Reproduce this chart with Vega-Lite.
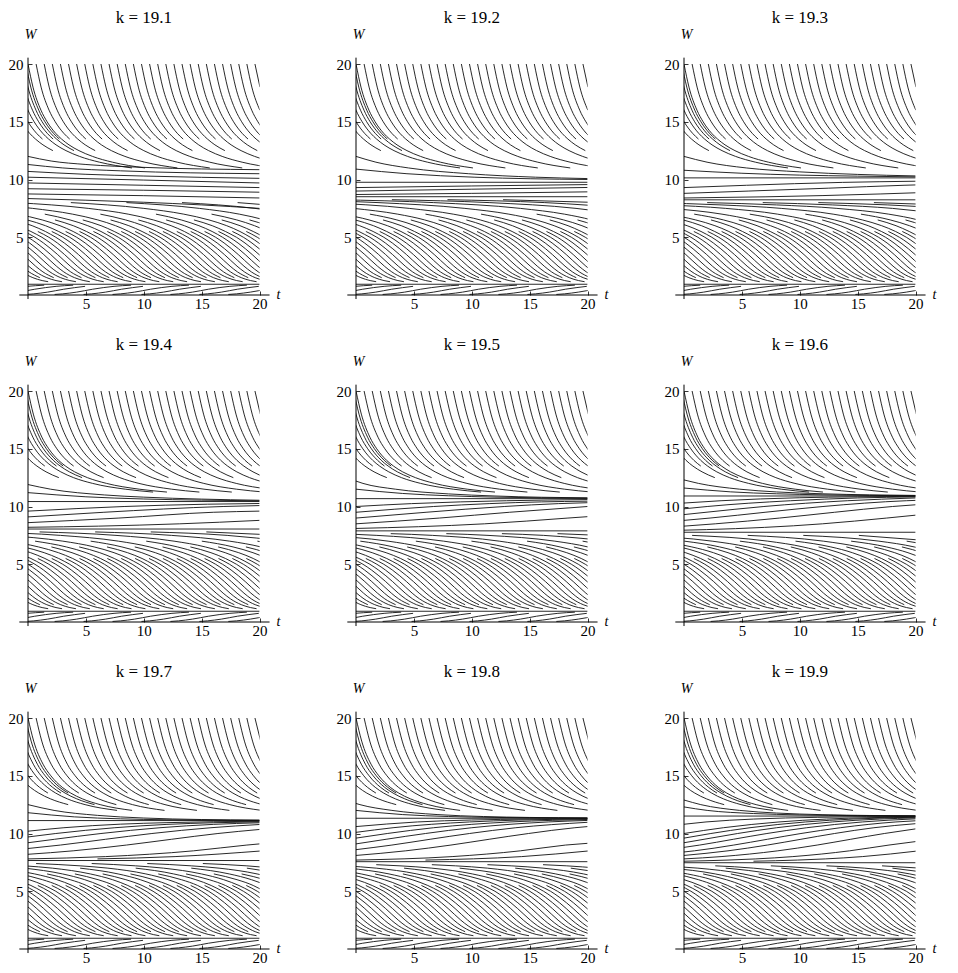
{
"$schema":"https://vega.github.io/schema/vega-lite/v6.json",
"background":"white",
"padding":{"left":8,"top":9,"right":4,"bottom":4},
"config":{"view":{"stroke":null},"font":"Liberation Serif"},
"datasets":{
"groups":[
{"g":"all","ks":["19.1","19.2","19.3","19.4","19.5","19.6","19.7","19.8","19.9"]},
{"g":"G1","ks":["19.1","19.2","19.3"]},{"g":"G2","ks":["19.4","19.5","19.6"]},{"g":"G3","ks":["19.7","19.8","19.9"]},
{"g":"19.1","ks":["19.1"]},{"g":"19.2","ks":["19.2"]},{"g":"19.3","ks":["19.3"]},{"g":"19.4","ks":["19.4"]},{"g":"19.5","ks":["19.5"]},{"g":"19.6","ks":["19.6"]},{"g":"19.7","ks":["19.7"]},{"g":"19.8","ks":["19.8"]},{"g":"19.9","ks":["19.9"]}
],
"curves":[
{"g":"all","ax":1,"t":[0],"w":[0]},
{"g":"all","t":[-1.15,-0.51,0.42,1.22,1.74],"w":[2.5,2,1.5,1.25,1.15]},
{"g":"all","t":[-1.1,-0.55,0.09,1.02],"w":[3,2.5,2,1.5]},
{"g":"all","t":[-1.04,-0.5,0.05,0.69,1.62,2.42,2.94],"w":[3.5,3,2.5,2,1.5,1.25,1.15]},
{"g":"all","t":[-1.02,-0.44,0.1,0.65,1.29,2.22],"w":[4,3.5,3,2.5,2,1.5]},
{"g":"all","t":[-1.06,-0.42,0.16,0.7,1.25,1.89,2.82,3.62,4.14],"w":[4.5,4,3.5,3,2.5,2,1.5,1.25,1.15]},
{"g":"all","t":[-1.2,-0.46,0.18,0.76,1.3,1.85,2.49,3.42],"w":[5,4.5,4,3.5,3,2.5,2,1.5]},
{"g":"all","t":[-1.55,-0.6,0.14,0.78,1.36,1.9,2.45,3.09,4.02,4.82,5.34],"w":[5.5,5,4.5,4,3.5,3,2.5,2,1.5,1.25,1.15]},
{"g":"all","t":[0,0.74,1.38,1.96,2.5,3.05,3.69,4.62],"w":[5,4.5,4,3.5,3,2.5,2,1.5]},
{"g":"all","t":[-0.35,0.6,1.34,1.98,2.56,3.1,3.65,4.29,5.22,6.02,6.54],"w":[5.5,5,4.5,4,3.5,3,2.5,2,1.5,1.25,1.15]},
{"g":"all","t":[1.2,1.94,2.58,3.16,3.7,4.25,4.89,5.82],"w":[5,4.5,4,3.5,3,2.5,2,1.5]},
{"g":"all","t":[0.85,1.8,2.54,3.18,3.76,4.3,4.85,5.49,6.42,7.22,7.74],"w":[5.5,5,4.5,4,3.5,3,2.5,2,1.5,1.25,1.15]},
{"g":"all","t":[2.4,3.14,3.78,4.36,4.9,5.45,6.09,7.02],"w":[5,4.5,4,3.5,3,2.5,2,1.5]},
{"g":"all","t":[2.05,3,3.74,4.38,4.96,5.5,6.05,6.69,7.62,8.42,8.94],"w":[5.5,5,4.5,4,3.5,3,2.5,2,1.5,1.25,1.15]},
{"g":"all","t":[3.6,4.34,4.98,5.56,6.1,6.65,7.29,8.22],"w":[5,4.5,4,3.5,3,2.5,2,1.5]},
{"g":"all","t":[3.25,4.2,4.94,5.58,6.16,6.7,7.25,7.89,8.82,9.62,10.14],"w":[5.5,5,4.5,4,3.5,3,2.5,2,1.5,1.25,1.15]},
{"g":"all","t":[4.8,5.54,6.18,6.76,7.3,7.85,8.49,9.42],"w":[5,4.5,4,3.5,3,2.5,2,1.5]},
{"g":"all","t":[4.45,5.4,6.14,6.78,7.36,7.9,8.45,9.09,10.02,10.82,11.34],"w":[5.5,5,4.5,4,3.5,3,2.5,2,1.5,1.25,1.15]},
{"g":"all","t":[6,6.74,7.38,7.96,8.5,9.05,9.69,10.62],"w":[5,4.5,4,3.5,3,2.5,2,1.5]},
{"g":"all","t":[5.65,6.6,7.34,7.98,8.56,9.1,9.65,10.29,11.22,12.02,12.54],"w":[5.5,5,4.5,4,3.5,3,2.5,2,1.5,1.25,1.15]},
{"g":"all","t":[7.2,7.94,8.58,9.16,9.7,10.25,10.89,11.82],"w":[5,4.5,4,3.5,3,2.5,2,1.5]},
{"g":"all","t":[6.85,7.8,8.54,9.18,9.76,10.3,10.85,11.49,12.42,13.22,13.74],"w":[5.5,5,4.5,4,3.5,3,2.5,2,1.5,1.25,1.15]},
{"g":"all","t":[8.4,9.14,9.78,10.36,10.9,11.45,12.09,13.02],"w":[5,4.5,4,3.5,3,2.5,2,1.5]},
{"g":"all","t":[8.05,9,9.74,10.38,10.96,11.5,12.05,12.69,13.62,14.42,14.94],"w":[5.5,5,4.5,4,3.5,3,2.5,2,1.5,1.25,1.15]},
{"g":"all","t":[9.6,10.34,10.98,11.56,12.1,12.65,13.29,14.22],"w":[5,4.5,4,3.5,3,2.5,2,1.5]},
{"g":"all","t":[9.25,10.2,10.94,11.58,12.16,12.7,13.25,13.89,14.82,15.62,16.14],"w":[5.5,5,4.5,4,3.5,3,2.5,2,1.5,1.25,1.15]},
{"g":"all","t":[10.8,11.54,12.18,12.76,13.3,13.85,14.49,15.42],"w":[5,4.5,4,3.5,3,2.5,2,1.5]},
{"g":"all","t":[10.45,11.4,12.14,12.78,13.36,13.9,14.45,15.09,16.02,16.82,17.34],"w":[5.5,5,4.5,4,3.5,3,2.5,2,1.5,1.25,1.15]},
{"g":"all","t":[12,12.74,13.38,13.96,14.5,15.05,15.69,16.62],"w":[5,4.5,4,3.5,3,2.5,2,1.5]},
{"g":"all","t":[11.65,12.6,13.34,13.98,14.56,15.1,15.65,16.29,17.22,18.02,18.54],"w":[5.5,5,4.5,4,3.5,3,2.5,2,1.5,1.25,1.15]},
{"g":"all","t":[13.2,13.94,14.58,15.16,15.7,16.25,16.89,17.82],"w":[5,4.5,4,3.5,3,2.5,2,1.5]},
{"g":"all","t":[12.85,13.8,14.54,15.18,15.76,16.3,16.85,17.49,18.42,19.22,19.74],"w":[5.5,5,4.5,4,3.5,3,2.5,2,1.5,1.25,1.15]},
{"g":"all","t":[14.4,15.14,15.78,16.36,16.9,17.45,18.09,19.02],"w":[5,4.5,4,3.5,3,2.5,2,1.5]},
{"g":"all","t":[14.05,15,15.74,16.38,16.96,17.5,18.05,18.69,19.62,20.42],"w":[5.5,5,4.5,4,3.5,3,2.5,2,1.5,1.25]},
{"g":"all","t":[15.6,16.34,16.98,17.56,18.1,18.65,19.29,20.22],"w":[5,4.5,4,3.5,3,2.5,2,1.5]},
{"g":"all","t":[15.25,16.2,16.94,17.58,18.16,18.7,19.25,19.89,20.82],"w":[5.5,5,4.5,4,3.5,3,2.5,2,1.5]},
{"g":"all","t":[16.8,17.54,18.18,18.76,19.3,19.85,20.49],"w":[5,4.5,4,3.5,3,2.5,2]},
{"g":"all","t":[16.45,17.4,18.14,18.78,19.36,19.9,20.45],"w":[5.5,5,4.5,4,3.5,3,2.5]},
{"g":"all","t":[18,18.74,19.38,19.96,20.5],"w":[5,4.5,4,3.5,3]},
{"g":"all","t":[17.65,18.6,19.34,19.98,20.56],"w":[5.5,5,4.5,4,3.5]},
{"g":"all","t":[19.2,19.94,20.58],"w":[5,4.5,4]},
{"g":"all","t":[18.85,19.8,20.54],"w":[5.5,5,4.5]},
{"g":"all","t":[0,20],"w":[0.93,0.93]},
{"g":"all","t":[-2.7,-2,-0.8,0.58,2.43,3.9],"w":[0.05,0.1,0.25,0.5,0.75,0.85]},
{"g":"all","t":[-0.2,0.5,1.7,3.08,4.93],"w":[0.05,0.1,0.25,0.5,0.75]},
{"g":"all","t":[2.3,3,4.2,5.58,7.43,8.9],"w":[0.05,0.1,0.25,0.5,0.75,0.85]},
{"g":"all","t":[4.8,5.5,6.7,8.08,9.93],"w":[0.05,0.1,0.25,0.5,0.75]},
{"g":"all","t":[7.3,8,9.2,10.58,12.43,13.9],"w":[0.05,0.1,0.25,0.5,0.75,0.85]},
{"g":"all","t":[9.8,10.5,11.7,13.08,14.93],"w":[0.05,0.1,0.25,0.5,0.75]},
{"g":"all","t":[12.3,13,14.2,15.58,17.43,18.9],"w":[0.05,0.1,0.25,0.5,0.75,0.85]},
{"g":"all","t":[14.8,15.5,16.7,18.08,19.93],"w":[0.05,0.1,0.25,0.5,0.75]},
{"g":"all","t":[17.3,18,19.2,20.58],"w":[0.05,0.1,0.25,0.5]},
{"g":"all","t":[-2,-0.07,1.4],"w":[0.5,0.75,0.85]},

{"g":"G1","t":[0,0.43,1.12,1.65,2.39,2.9,3.54,4.4,5.57,7.29,10.1],"w":[20,18,16,15,14,13.5,13,12.5,12,11.5,11]},
{"g":"G1","t":[0.7,1.13,1.82,2.35,3.09,3.6],"w":[20,18,16,15,14,13.5]},
{"g":"G1","t":[1.4,1.83,2.52,3.05,3.79,4.3,4.94,5.8],"w":[20,18,16,15,14,13.5,13,12.5]},
{"g":"G1","t":[2.1,2.53,3.22,3.75,4.49,5],"w":[20,18,16,15,14,13.5]},
{"g":"G1","t":[2.8,3.23,3.92,4.45,5.19,5.7,6.34,7.2,8.37,10.09,12.9],"w":[20,18,16,15,14,13.5,13,12.5,12,11.5,11]},
{"g":"G1","t":[3.5,3.93,4.62,5.15,5.89,6.4],"w":[20,18,16,15,14,13.5]},
{"g":"G1","t":[4.2,4.63,5.32,5.85,6.59,7.1,7.74,8.6],"w":[20,18,16,15,14,13.5,13,12.5]},
{"g":"G1","t":[4.9,5.33,6.02,6.55,7.29,7.8],"w":[20,18,16,15,14,13.5]},
{"g":"G1","t":[5.6,6.03,6.72,7.25,7.99,8.5,9.14,10,11.17,12.89,15.7],"w":[20,18,16,15,14,13.5,13,12.5,12,11.5,11]},
{"g":"G1","t":[6.3,6.73,7.42,7.95,8.69,9.2],"w":[20,18,16,15,14,13.5]},
{"g":"G1","t":[7,7.43,8.12,8.65,9.39,9.9,10.54,11.4],"w":[20,18,16,15,14,13.5,13,12.5]},
{"g":"G1","t":[7.7,8.13,8.82,9.35,10.09,10.6],"w":[20,18,16,15,14,13.5]},
{"g":"G1","t":[8.4,8.83,9.52,10.05,10.79,11.3,11.94,12.8,13.97,15.69,18.5],"w":[20,18,16,15,14,13.5,13,12.5,12,11.5,11]},
{"g":"G1","t":[9.1,9.53,10.22,10.75,11.49,12],"w":[20,18,16,15,14,13.5]},
{"g":"G1","t":[9.8,10.23,10.92,11.45,12.19,12.7,13.34,14.2],"w":[20,18,16,15,14,13.5,13,12.5]},
{"g":"G1","t":[10.5,10.93,11.62,12.15,12.89,13.4],"w":[20,18,16,15,14,13.5]},
{"g":"G1","t":[11.2,11.63,12.32,12.85,13.59,14.1,14.74,15.6,16.77,18.49,21.3],"w":[20,18,16,15,14,13.5,13,12.5,12,11.5,11]},
{"g":"G1","t":[11.9,12.33,13.02,13.55,14.29,14.8],"w":[20,18,16,15,14,13.5]},
{"g":"G1","t":[12.6,13.03,13.72,14.25,14.99,15.5,16.14,17],"w":[20,18,16,15,14,13.5,13,12.5]},
{"g":"G1","t":[13.3,13.73,14.42,14.95,15.69,16.2],"w":[20,18,16,15,14,13.5]},
{"g":"G1","t":[14,14.43,15.12,15.65,16.39,16.9,17.54,18.4,19.57,21.29],"w":[20,18,16,15,14,13.5,13,12.5,12,11.5]},
{"g":"G1","t":[14.7,15.13,15.82,16.35,17.09,17.6],"w":[20,18,16,15,14,13.5]},
{"g":"G1","t":[15.4,15.83,16.52,17.05,17.79,18.3,18.94,19.8],"w":[20,18,16,15,14,13.5,13,12.5]},
{"g":"G1","t":[16.1,16.53,17.22,17.75,18.49,19],"w":[20,18,16,15,14,13.5]},
{"g":"G1","t":[16.8,17.23,17.92,18.45,19.19,19.7,20.34],"w":[20,18,16,15,14,13.5,13]},
{"g":"G1","t":[17.5,17.93,18.62,19.15,19.89,20.4],"w":[20,18,16,15,14,13.5]},
{"g":"G1","t":[18.2,18.63,19.32,19.85,20.59],"w":[20,18,16,15,14]},
{"g":"G1","t":[18.9,19.33,20.02],"w":[20,18,16]},
{"g":"G1","t":[19.6,20.03],"w":[20,18]},
{"g":"G1","t":[-0.19,0.24,0.93,1.46,2.2,2.71],"w":[20,18,16,15,14,13.5]},
{"g":"G1","t":[-0.43,0,0.69,1.22,1.96,2.47,3.11,3.97],"w":[20,18,16,15,14,13.5,13,12.5]},
{"g":"G1","t":[-0.73,-0.3,0.39,0.92,1.66,2.17],"w":[20,18,16,15,14,13.5]},
{"g":"G1","t":[-1.12,-0.69,0,0.53,1.27,1.78,2.42,3.28,4.45,6.17,8.98],"w":[20,18,16,15,14,13.5,13,12.5,12,11.5,11]},
{"g":"G1","t":[-1.65,-1.22,-0.53,0,0.74,1.25],"w":[20,18,16,15,14,13.5]},
{"g":"G1","t":[-2.25,-1.82,-1.13,-0.6,0.14,0.65,1.29,2.15],"w":[20,18,16,15,14,13.5,13,12.5]},

{"g":"G2","t":[0,0.46,1.2,1.79,2.64,3.24,4.03,5.13,6.78,9.6,12],"w":[20,18,16,15,14,13.5,13,12.5,12,11.5,11.25]},
{"g":"G2","t":[0.7,1.16,1.9,2.49,3.34,3.94],"w":[20,18,16,15,14,13.5]},
{"g":"G2","t":[1.4,1.86,2.6,3.19,4.04,4.64,5.43,6.53],"w":[20,18,16,15,14,13.5,13,12.5]},
{"g":"G2","t":[2.1,2.56,3.3,3.89,4.74,5.34],"w":[20,18,16,15,14,13.5]},
{"g":"G2","t":[2.8,3.26,4,4.59,5.44,6.04,6.83,7.93,9.58,12.4,14.8],"w":[20,18,16,15,14,13.5,13,12.5,12,11.5,11.25]},
{"g":"G2","t":[3.5,3.96,4.7,5.29,6.14,6.74],"w":[20,18,16,15,14,13.5]},
{"g":"G2","t":[4.2,4.66,5.4,5.99,6.84,7.44,8.23,9.33],"w":[20,18,16,15,14,13.5,13,12.5]},
{"g":"G2","t":[4.9,5.36,6.1,6.69,7.54,8.14],"w":[20,18,16,15,14,13.5]},
{"g":"G2","t":[5.6,6.06,6.8,7.39,8.24,8.84,9.63,10.73,12.38,15.2,17.6],"w":[20,18,16,15,14,13.5,13,12.5,12,11.5,11.25]},
{"g":"G2","t":[6.3,6.76,7.5,8.09,8.94,9.54],"w":[20,18,16,15,14,13.5]},
{"g":"G2","t":[7,7.46,8.2,8.79,9.64,10.24,11.03,12.13],"w":[20,18,16,15,14,13.5,13,12.5]},
{"g":"G2","t":[7.7,8.16,8.9,9.49,10.34,10.94],"w":[20,18,16,15,14,13.5]},
{"g":"G2","t":[8.4,8.86,9.6,10.19,11.04,11.64,12.43,13.53,15.18,18,20.4],"w":[20,18,16,15,14,13.5,13,12.5,12,11.5,11.25]},
{"g":"G2","t":[9.1,9.56,10.3,10.89,11.74,12.34],"w":[20,18,16,15,14,13.5]},
{"g":"G2","t":[9.8,10.26,11,11.59,12.44,13.04,13.83,14.93],"w":[20,18,16,15,14,13.5,13,12.5]},
{"g":"G2","t":[10.5,10.96,11.7,12.29,13.14,13.74],"w":[20,18,16,15,14,13.5]},
{"g":"G2","t":[11.2,11.66,12.4,12.99,13.84,14.44,15.23,16.33,17.98,20.8],"w":[20,18,16,15,14,13.5,13,12.5,12,11.5]},
{"g":"G2","t":[11.9,12.36,13.1,13.69,14.54,15.14],"w":[20,18,16,15,14,13.5]},
{"g":"G2","t":[12.6,13.06,13.8,14.39,15.24,15.84,16.63,17.73],"w":[20,18,16,15,14,13.5,13,12.5]},
{"g":"G2","t":[13.3,13.76,14.5,15.09,15.94,16.54],"w":[20,18,16,15,14,13.5]},
{"g":"G2","t":[14,14.46,15.2,15.79,16.64,17.24,18.03,19.13,20.78],"w":[20,18,16,15,14,13.5,13,12.5,12]},
{"g":"G2","t":[14.7,15.16,15.9,16.49,17.34,17.94],"w":[20,18,16,15,14,13.5]},
{"g":"G2","t":[15.4,15.86,16.6,17.19,18.04,18.64,19.43,20.53],"w":[20,18,16,15,14,13.5,13,12.5]},
{"g":"G2","t":[16.1,16.56,17.3,17.89,18.74,19.34],"w":[20,18,16,15,14,13.5]},
{"g":"G2","t":[16.8,17.26,18,18.59,19.44,20.04],"w":[20,18,16,15,14,13.5]},
{"g":"G2","t":[17.5,17.96,18.7,19.29,20.14],"w":[20,18,16,15,14]},
{"g":"G2","t":[18.2,18.66,19.4,19.99,20.84],"w":[20,18,16,15,14]},
{"g":"G2","t":[18.9,19.36,20.1],"w":[20,18,16]},
{"g":"G2","t":[19.6,20.06],"w":[20,18]},
{"g":"G2","t":[-0.2,0.26,1,1.59,2.44,3.04],"w":[20,18,16,15,14,13.5]},
{"g":"G2","t":[-0.46,0,0.74,1.33,2.18,2.78,3.57,4.67],"w":[20,18,16,15,14,13.5,13,12.5]},
{"g":"G2","t":[-0.78,-0.32,0.42,1.01,1.86,2.46],"w":[20,18,16,15,14,13.5]},
{"g":"G2","t":[-1.2,-0.74,0,0.59,1.44,2.04,2.83,3.93,5.58,8.4,10.8],"w":[20,18,16,15,14,13.5,13,12.5,12,11.5,11.25]},
{"g":"G2","t":[-1.79,-1.33,-0.59,0,0.85,1.45],"w":[20,18,16,15,14,13.5]},
{"g":"G2","t":[-2.47,-2.01,-1.27,-0.68,0.17,0.77,1.56,2.66],"w":[20,18,16,15,14,13.5,13,12.5]},

{"g":"G3","t":[0,0.49,1.3,1.97,2.96,3.69,4.7,6.23,8.99],"w":[20,18,16,15,14,13.5,13,12.5,12]},
{"g":"G3","t":[0.7,1.19,2,2.67,3.66,4.39],"w":[20,18,16,15,14,13.5]},
{"g":"G3","t":[1.4,1.89,2.7,3.37,4.36,5.09,6.1,7.63],"w":[20,18,16,15,14,13.5,13,12.5]},
{"g":"G3","t":[2.1,2.59,3.4,4.07,5.06,5.79],"w":[20,18,16,15,14,13.5]},
{"g":"G3","t":[2.8,3.29,4.1,4.77,5.76,6.49,7.5,9.03,11.79],"w":[20,18,16,15,14,13.5,13,12.5,12]},
{"g":"G3","t":[3.5,3.99,4.8,5.47,6.46,7.19],"w":[20,18,16,15,14,13.5]},
{"g":"G3","t":[4.2,4.69,5.5,6.17,7.16,7.89,8.9,10.43],"w":[20,18,16,15,14,13.5,13,12.5]},
{"g":"G3","t":[4.9,5.39,6.2,6.87,7.86,8.59],"w":[20,18,16,15,14,13.5]},
{"g":"G3","t":[5.6,6.09,6.9,7.57,8.56,9.29,10.3,11.83,14.59],"w":[20,18,16,15,14,13.5,13,12.5,12]},
{"g":"G3","t":[6.3,6.79,7.6,8.27,9.26,9.99],"w":[20,18,16,15,14,13.5]},
{"g":"G3","t":[7,7.49,8.3,8.97,9.96,10.69,11.7,13.23],"w":[20,18,16,15,14,13.5,13,12.5]},
{"g":"G3","t":[7.7,8.19,9,9.67,10.66,11.39],"w":[20,18,16,15,14,13.5]},
{"g":"G3","t":[8.4,8.89,9.7,10.37,11.36,12.09,13.1,14.63,17.39],"w":[20,18,16,15,14,13.5,13,12.5,12]},
{"g":"G3","t":[9.1,9.59,10.4,11.07,12.06,12.79],"w":[20,18,16,15,14,13.5]},
{"g":"G3","t":[9.8,10.29,11.1,11.77,12.76,13.49,14.5,16.03],"w":[20,18,16,15,14,13.5,13,12.5]},
{"g":"G3","t":[10.5,10.99,11.8,12.47,13.46,14.19],"w":[20,18,16,15,14,13.5]},
{"g":"G3","t":[11.2,11.69,12.5,13.17,14.16,14.89,15.9,17.43,20.19],"w":[20,18,16,15,14,13.5,13,12.5,12]},
{"g":"G3","t":[11.9,12.39,13.2,13.87,14.86,15.59],"w":[20,18,16,15,14,13.5]},
{"g":"G3","t":[12.6,13.09,13.9,14.57,15.56,16.29,17.3,18.83],"w":[20,18,16,15,14,13.5,13,12.5]},
{"g":"G3","t":[13.3,13.79,14.6,15.27,16.26,16.99],"w":[20,18,16,15,14,13.5]},
{"g":"G3","t":[14,14.49,15.3,15.97,16.96,17.69,18.7,20.23],"w":[20,18,16,15,14,13.5,13,12.5]},
{"g":"G3","t":[14.7,15.19,16,16.67,17.66,18.39],"w":[20,18,16,15,14,13.5]},
{"g":"G3","t":[15.4,15.89,16.7,17.37,18.36,19.09,20.1],"w":[20,18,16,15,14,13.5,13]},
{"g":"G3","t":[16.1,16.59,17.4,18.07,19.06,19.79],"w":[20,18,16,15,14,13.5]},
{"g":"G3","t":[16.8,17.29,18.1,18.77,19.76,20.49],"w":[20,18,16,15,14,13.5]},
{"g":"G3","t":[17.5,17.99,18.8,19.47,20.46],"w":[20,18,16,15,14]},
{"g":"G3","t":[18.2,18.69,19.5,20.17],"w":[20,18,16,15]},
{"g":"G3","t":[18.9,19.39,20.2],"w":[20,18,16]},
{"g":"G3","t":[19.6,20.09],"w":[20,18]},
{"g":"G3","t":[-0.22,0.27,1.08,1.75,2.74,3.47],"w":[20,18,16,15,14,13.5]},
{"g":"G3","t":[-0.49,0,0.81,1.48,2.47,3.2,4.21,5.74],"w":[20,18,16,15,14,13.5,13,12.5]},
{"g":"G3","t":[-0.84,-0.35,0.46,1.13,2.12,2.85],"w":[20,18,16,15,14,13.5]},
{"g":"G3","t":[-1.3,-0.81,0,0.67,1.66,2.39,3.4,4.93,7.69],"w":[20,18,16,15,14,13.5,13,12.5,12]},
{"g":"G3","t":[-1.97,-1.48,-0.67,0,0.99,1.72],"w":[20,18,16,15,14,13.5]},
{"g":"G3","t":[-2.76,-2.27,-1.46,-0.79,0.2,0.93,1.94,3.47],"w":[20,18,16,15,14,13.5,13,12.5]},

{"g":"G1","t":[1.2,0.25,-0.89,-2.47],"w":[5,5.5,6,6.5]},
{"g":"G1","t":[3.6,2.65,1.51,-0.07],"w":[5,5.5,6,6.5]},
{"g":"G1","t":[6,5.05,3.91,2.33],"w":[5,5.5,6,6.5]},
{"g":"G1","t":[8.4,7.45,6.31,4.73],"w":[5,5.5,6,6.5]},
{"g":"G1","t":[10.8,9.85,8.71,7.13],"w":[5,5.5,6,6.5]},
{"g":"G1","t":[13.2,12.25,11.11,9.53],"w":[5,5.5,6,6.5]},
{"g":"G1","t":[15.6,14.65,13.51,11.93],"w":[5,5.5,6,6.5]},
{"g":"G1","t":[18,17.05,15.91,14.33],"w":[5,5.5,6,6.5]},
{"g":"G1","t":[20.4,19.45,18.31,16.73],"w":[5,5.5,6,6.5]},
{"g":"G1","t":[22.8,21.85,20.71,19.13],"w":[5,5.5,6,6.5]},
{"g":"G2","t":[1.2,0.25,-1,-2.78],"w":[5,5.5,6,6.5]},
{"g":"G2","t":[3.6,2.65,1.4,-0.38],"w":[5,5.5,6,6.5]},
{"g":"G2","t":[6,5.05,3.8,2.02],"w":[5,5.5,6,6.5]},
{"g":"G2","t":[8.4,7.45,6.2,4.42],"w":[5,5.5,6,6.5]},
{"g":"G2","t":[10.8,9.85,8.6,6.82],"w":[5,5.5,6,6.5]},
{"g":"G2","t":[13.2,12.25,11,9.22],"w":[5,5.5,6,6.5]},
{"g":"G2","t":[15.6,14.65,13.4,11.62],"w":[5,5.5,6,6.5]},
{"g":"G2","t":[18,17.05,15.8,14.02],"w":[5,5.5,6,6.5]},
{"g":"G2","t":[20.4,19.45,18.2,16.42],"w":[5,5.5,6,6.5]},
{"g":"G2","t":[22.8,21.85,20.6,18.82],"w":[5,5.5,6,6.5]},
{"g":"G3","t":[1.2,0.25,-1.15,-3.15],"w":[5,5.5,6,6.5]},
{"g":"G3","t":[3.6,2.65,1.25,-0.75],"w":[5,5.5,6,6.5]},
{"g":"G3","t":[6,5.05,3.65,1.65],"w":[5,5.5,6,6.5]},
{"g":"G3","t":[8.4,7.45,6.05,4.05],"w":[5,5.5,6,6.5]},
{"g":"G3","t":[10.8,9.85,8.45,6.45],"w":[5,5.5,6,6.5]},
{"g":"G3","t":[13.2,12.25,10.85,8.85],"w":[5,5.5,6,6.5]},
{"g":"G3","t":[15.6,14.65,13.25,11.25],"w":[5,5.5,6,6.5]},
{"g":"G3","t":[18,17.05,15.65,13.65],"w":[5,5.5,6,6.5]},
{"g":"G3","t":[20.4,19.45,18.05,16.05],"w":[5,5.5,6,6.5]},
{"g":"G3","t":[22.8,21.85,20.45,18.45],"w":[5,5.5,6,6.5]},

{"g":"19.1","t":[2.4,1.5,0.36,-1.17,-3.35],"w":[5,5.5,6,6.5,7]},
{"g":"19.1","t":[7.2,6.3,5.16,3.63,1.45],"w":[5,5.5,6,6.5,7]},
{"g":"19.1","t":[12,11.1,9.96,8.43,6.25],"w":[5,5.5,6,6.5,7]},
{"g":"19.1","t":[16.8,15.9,14.76,13.23,11.05],"w":[5,5.5,6,6.5,7]},
{"g":"19.1","t":[21.6,20.7,19.56,18.03,15.85],"w":[5,5.5,6,6.5,7]},
{"g":"19.1","t":[4.8,3.9,2.76,1.23,-0.95,-4.4],"w":[5,5.5,6,6.5,7,7.5]},
{"g":"19.1","t":[9.6,8.7,7.56,6.03,3.85,0.4,-5.9],"w":[5,5.5,6,6.5,7,7.5,8]},
{"g":"19.1","t":[14.4,13.5,12.36,10.83,8.65,5.2,-1.1],"w":[5,5.5,6,6.5,7,7.5,8]},
{"g":"19.1","t":[19.2,18.3,17.16,15.63,13.45,10,3.7],"w":[5,5.5,6,6.5,7,7.5,8]},
{"g":"19.1","t":[24,23.1,21.96,20.43,18.25,14.8,8.5],"w":[5,5.5,6,6.5,7,7.5,8]},
{"g":"19.1","t":[23.05,19.6,13.3],"w":[7,7.5,8]},
{"g":"19.1","t":[24.4,18.1],"w":[7.5,8]},
{"g":"19.1","t":[0,2,5,10,20],"w":[12,11.6,11.3,11.05,10.85]},
{"g":"19.1","t":[0,3,8,20],"w":[11.3,11,10.75,10.5]},
{"g":"19.1","t":[0,5,10,20],"w":[10.7,10.45,10.3,10.1]},
{"g":"19.1","t":[0,10,20],"w":[10.2,9.95,9.7]},
{"g":"19.1","t":[0,10,20],"w":[9.7,9.5,9.3]},
{"g":"19.1","t":[0,10,20],"w":[9.2,9.07,8.9]},
{"g":"19.1","t":[0,10,20],"w":[8.75,8.6,8.4]},
{"g":"19.1","t":[0,10,15,20],"w":[8.35,8.03,7.8,7.5]},

{"g":"19.2","t":[2.4,1.48,0.31,-1.27,-3.6],"w":[5,5.5,6,6.5,7]},
{"g":"19.2","t":[7.2,6.28,5.11,3.53,1.2],"w":[5,5.5,6,6.5,7]},
{"g":"19.2","t":[12,11.08,9.91,8.33,6],"w":[5,5.5,6,6.5,7]},
{"g":"19.2","t":[16.8,15.88,14.71,13.13,10.8],"w":[5,5.5,6,6.5,7]},
{"g":"19.2","t":[21.6,20.68,19.51,17.93,15.6],"w":[5,5.5,6,6.5,7]},
{"g":"19.2","t":[4.8,3.88,2.71,1.13,-1.2,-5],"w":[5,5.5,6,6.5,7,7.5]},
{"g":"19.2","t":[9.6,8.68,7.51,5.93,3.6,-0.2,-7.7],"w":[5,5.5,6,6.5,7,7.5,8]},
{"g":"19.2","t":[14.4,13.48,12.31,10.73,8.4,4.6,-2.9],"w":[5,5.5,6,6.5,7,7.5,8]},
{"g":"19.2","t":[19.2,18.28,17.11,15.53,13.2,9.4,1.9,-6.5],"w":[5,5.5,6,6.5,7,7.5,8,8.25]},
{"g":"19.2","t":[24,23.08,21.91,20.33,18,14.2,6.7,-1.7],"w":[5,5.5,6,6.5,7,7.5,8,8.25]},
{"g":"19.2","t":[22.8,19,11.5,3.1],"w":[7,7.5,8,8.25]},
{"g":"19.2","t":[23.8,16.3,7.9],"w":[7.5,8,8.25]},
{"g":"19.2","t":[21.1,12.7],"w":[8,8.25]},
{"g":"19.2","t":[0,1.72,4.53,9.73,15.5,20],"w":[12,11.5,11,10.5,10.2,10.08]},
{"g":"19.2","t":[0,4.4,10.2,20],"w":[10.9,10.5,10.2,10]},
{"g":"19.2","t":[0,20],"w":[9.76,9.76]},
{"g":"19.2","t":[0,10,20],"w":[8.7,8.8,8.93]},
{"g":"19.2","t":[0,10,20],"w":[9,9.16,9.31]},
{"g":"19.2","t":[0,10,20],"w":[9.3,9.44,9.56]},
{"g":"19.2","t":[0,20],"w":[8.51,8.51]},

{"g":"19.3","t":[2.4,1.47,0.27,-1.39,-3.92],"w":[5,5.5,6,6.5,7]},
{"g":"19.3","t":[7.2,6.27,5.07,3.41,0.88],"w":[5,5.5,6,6.5,7]},
{"g":"19.3","t":[12,11.07,9.87,8.21,5.68],"w":[5,5.5,6,6.5,7]},
{"g":"19.3","t":[16.8,15.87,14.67,13.01,10.48],"w":[5,5.5,6,6.5,7]},
{"g":"19.3","t":[21.6,20.67,19.47,17.81,15.28],"w":[5,5.5,6,6.5,7]},
{"g":"19.3","t":[4.8,3.87,2.67,1.01,-1.52,-6],"w":[5,5.5,6,6.5,7,7.5]},
{"g":"19.3","t":[9.6,8.67,7.47,5.81,3.28,-1.2],"w":[5,5.5,6,6.5,7,7.5]},
{"g":"19.3","t":[14.4,13.47,12.27,10.61,8.08,3.6,-1.6],"w":[5,5.5,6,6.5,7,7.5,7.8]},
{"g":"19.3","t":[19.2,18.27,17.07,15.41,12.88,8.4,3.2,-2.8],"w":[5,5.5,6,6.5,7,7.5,7.8,8]},
{"g":"19.3","t":[24,23.07,21.87,20.21,17.68,13.2,8,2],"w":[5,5.5,6,6.5,7,7.5,7.8,8]},
{"g":"19.3","t":[22.48,18,12.8,6.8],"w":[7,7.5,7.8,8]},
{"g":"19.3","t":[22.8,17.6,11.6],"w":[7.5,7.8,8]},
{"g":"19.3","t":[22.4,16.4],"w":[7.8,8]},
{"g":"19.3","t":[0,1.99,5.39,10,15,20],"w":[12,11.5,11,10.66,10.44,10.31]},
{"g":"19.3","t":[0,5,10,15,20],"w":[10.8,10.54,10.38,10.29,10.23]},
{"g":"19.3","t":[0,20],"w":[10.14,10.14]},
{"g":"19.3","t":[0,7,17,20],"w":[8.4,8.5,8.75,8.85]},
{"g":"19.3","t":[0,5.6,12.5,19,20],"w":[8.8,9,9.25,9.5,9.53]},
{"g":"19.3","t":[0,5.4,13.7,20],"w":[9.3,9.5,9.75,9.85]},
{"g":"19.3","t":[0,20],"w":[8.24,8.24]},

{"g":"19.4","t":[2.4,1.46,0.23,-1.49,-4.19],"w":[5,5.5,6,6.5,7]},
{"g":"19.4","t":[7.2,6.26,5.03,3.31,0.61],"w":[5,5.5,6,6.5,7]},
{"g":"19.4","t":[12,11.06,9.83,8.11,5.41],"w":[5,5.5,6,6.5,7]},
{"g":"19.4","t":[16.8,15.86,14.63,12.91,10.21],"w":[5,5.5,6,6.5,7]},
{"g":"19.4","t":[21.6,20.66,19.43,17.71,15.01],"w":[5,5.5,6,6.5,7]},
{"g":"19.4","t":[22.51,19.81],"w":[6.5,7]},
{"g":"19.4","t":[4.8,3.86,2.63,0.91,-1.79],"w":[5,5.5,6,6.5,7]},
{"g":"19.4","t":[9.6,8.66,7.43,5.71,3.01,-2],"w":[5,5.5,6,6.5,7,7.5]},
{"g":"19.4","t":[14.4,13.46,12.23,10.51,7.81,2.8,-3.8],"w":[5,5.5,6,6.5,7,7.5,7.8]},
{"g":"19.4","t":[19.2,18.26,17.03,15.31,12.61,7.6,1],"w":[5,5.5,6,6.5,7,7.5,7.8]},
{"g":"19.4","t":[24,23.06,21.83,20.11,17.41,12.4,5.8],"w":[5,5.5,6,6.5,7,7.5,7.8]},
{"g":"19.4","t":[22.21,17.2,10.6],"w":[7,7.5,7.8]},
{"g":"19.4","t":[22,15.4],"w":[7.5,7.8]},
{"g":"19.4","t":[0,1.95,6.6,10,15,20],"w":[11.9,11.5,11,10.81,10.64,10.54]},
{"g":"19.4","t":[0,5,10,15,20],"w":[11.2,10.84,10.65,10.55,10.49]},
{"g":"19.4","t":[0,20],"w":[10.43,10.43]},
{"g":"19.4","t":[0,6.1,13.1,20],"w":[8.2,8.3,8.5,8.8]},
{"g":"19.4","t":[0,7.85,16,20],"w":[8.6,9,9.5,9.6]},
{"g":"19.4","t":[0,6.55,16.85,20],"w":[9.1,9.5,10,10.08]},
{"g":"19.4","t":[0,8.3,15.5,20],"w":[9.6,10,10.2,10.26]},
{"g":"19.4","t":[0,20],"w":[8.05,8.05]},

{"g":"19.5","t":[2.4,1.45,0.2,-1.58,-4.43],"w":[5,5.5,6,6.5,7]},
{"g":"19.5","t":[7.2,6.25,5,3.22,0.37],"w":[5,5.5,6,6.5,7]},
{"g":"19.5","t":[12,11.05,9.8,8.02,5.17],"w":[5,5.5,6,6.5,7]},
{"g":"19.5","t":[16.8,15.85,14.6,12.82,9.97],"w":[5,5.5,6,6.5,7]},
{"g":"19.5","t":[21.6,20.65,19.4,17.62,14.77],"w":[5,5.5,6,6.5,7]},
{"g":"19.5","t":[22.42,19.57],"w":[6.5,7]},
{"g":"19.5","t":[4.8,3.85,2.6,0.82,-2.03],"w":[5,5.5,6,6.5,7]},
{"g":"19.5","t":[9.6,8.65,7.4,5.62,2.77,-3],"w":[5,5.5,6,6.5,7,7.5]},
{"g":"19.5","t":[14.4,13.45,12.2,10.42,7.57,1.8,-1.8],"w":[5,5.5,6,6.5,7,7.5,7.65]},
{"g":"19.5","t":[19.2,18.25,17,15.22,12.37,6.6,3],"w":[5,5.5,6,6.5,7,7.5,7.65]},
{"g":"19.5","t":[24,23.05,21.8,20.02,17.17,11.4,7.8],"w":[5,5.5,6,6.5,7,7.5,7.65]},
{"g":"19.5","t":[21.97,16.2,12.6],"w":[7,7.5,7.65]},
{"g":"19.5","t":[21,17.4],"w":[7.5,7.65]},
{"g":"19.5","t":[0,0.6,3.4,8,12,16,20],"w":[12.2,12,11.5,11.09,10.91,10.8,10.75]},
{"g":"19.5","t":[0,4,8,12,16,20],"w":[11.5,11.13,10.93,10.81,10.75,10.72]},
{"g":"19.5","t":[0,20],"w":[10.68,10.68]},
{"g":"19.5","t":[0,5.4,11.1,18.3,20],"w":[8.1,8.25,8.5,9,9.12]},
{"g":"19.5","t":[0,7.2,13.25,20],"w":[8.5,9,9.5,10]},
{"g":"19.5","t":[0,6.05,12.8,17.5,20],"w":[9,9.5,10,10.25,10.33]},
{"g":"19.5","t":[0,6.7,11.5,16,20],"w":[9.5,10,10.25,10.4,10.46]},
{"g":"19.5","t":[0,4.8,9,13,20],"w":[10,10.25,10.4,10.5,10.6]},
{"g":"19.5","t":[0,20],"w":[7.89,7.89]},

{"g":"19.6","t":[2.4,1.43,0.14,-1.72,-4.77],"w":[5,5.5,6,6.5,7]},
{"g":"19.6","t":[7.2,6.23,4.94,3.08,0.03],"w":[5,5.5,6,6.5,7]},
{"g":"19.6","t":[12,11.03,9.74,7.88,4.83],"w":[5,5.5,6,6.5,7]},
{"g":"19.6","t":[16.8,15.83,14.54,12.68,9.63],"w":[5,5.5,6,6.5,7]},
{"g":"19.6","t":[21.6,20.63,19.34,17.48,14.43],"w":[5,5.5,6,6.5,7]},
{"g":"19.6","t":[22.28,19.23],"w":[6.5,7]},
{"g":"19.6","t":[4.8,3.83,2.54,0.68,-2.37],"w":[5,5.5,6,6.5,7]},
{"g":"19.6","t":[9.6,8.63,7.34,5.48,2.43,-4.1],"w":[5,5.5,6,6.5,7,7.5]},
{"g":"19.6","t":[14.4,13.43,12.14,10.28,7.23,0.7],"w":[5,5.5,6,6.5,7,7.5]},
{"g":"19.6","t":[19.2,18.23,16.94,15.08,12.03,5.5],"w":[5,5.5,6,6.5,7,7.5]},
{"g":"19.6","t":[24,23.03,21.74,19.88,16.83,10.3],"w":[5,5.5,6,6.5,7,7.5]},
{"g":"19.6","t":[21.63,15.1],"w":[7,7.5]},
{"g":"19.6","t":[0,1.25,4.8,8,12,16,20],"w":[12.3,12,11.5,11.26,11.1,11.01,10.96]},
{"g":"19.6","t":[0,4,8,12,16,20],"w":[11.6,11.27,11.1,11.01,10.96,10.93]},
{"g":"19.6","t":[0,20],"w":[10.91,10.91]},
{"g":"19.6","t":[0,1.95,11.95,17.5,20],"w":[7.95,8,8.5,9,9.25]},
{"g":"19.6","t":[0,2.7,8.25,13,18,20],"w":[8.3,8.5,9,9.5,10,10.15]},
{"g":"19.6","t":[0,2.25,7,12,19.2,20],"w":[8.8,9,9.5,10,10.5,10.53]},
{"g":"19.6","t":[0,1.9,6.9,14.1,20],"w":[9.3,9.5,10,10.5,10.74]},
{"g":"19.6","t":[0,2,9.2,15,20],"w":[9.8,10,10.5,10.74,10.83]},
{"g":"19.6","t":[0,3.2,10,15,20],"w":[10.3,10.5,10.76,10.84,10.88]},
{"g":"19.6","t":[0,20],"w":[7.77,7.77]},

{"g":"19.7","t":[2.4,1.42,0.1,-1.82,-5.1],"w":[5,5.5,6,6.5,7]},
{"g":"19.7","t":[7.2,6.22,4.9,2.98,-0.3],"w":[5,5.5,6,6.5,7]},
{"g":"19.7","t":[12,11.02,9.7,7.78,4.5],"w":[5,5.5,6,6.5,7]},
{"g":"19.7","t":[16.8,15.82,14.5,12.58,9.3],"w":[5,5.5,6,6.5,7]},
{"g":"19.7","t":[21.6,20.62,19.3,17.38,14.1],"w":[5,5.5,6,6.5,7]},
{"g":"19.7","t":[22.18,18.9],"w":[6.5,7]},
{"g":"19.7","t":[4.8,3.82,2.5,0.58,-2.7],"w":[5,5.5,6,6.5,7]},
{"g":"19.7","t":[9.6,8.62,7.3,5.38,2.1,-0.3,-4.1],"w":[5,5.5,6,6.5,7,7.2,7.4]},
{"g":"19.7","t":[14.4,13.42,12.1,10.18,6.9,4.5,0.7],"w":[5,5.5,6,6.5,7,7.2,7.4]},
{"g":"19.7","t":[19.2,18.22,16.9,14.98,11.7,9.3,5.5],"w":[5,5.5,6,6.5,7,7.2,7.4]},
{"g":"19.7","t":[24,23.02,21.7,19.78,16.5,14.1,10.3],"w":[5,5.5,6,6.5,7,7.2,7.4]},
{"g":"19.7","t":[21.3,18.9,15.1],"w":[7,7.2,7.4]},
{"g":"19.7","t":[0,2.25,6,10,15,20],"w":[12.5,12,11.57,11.34,11.21,11.16]},
{"g":"19.7","t":[0,4,8,12,20],"w":[11.8,11.44,11.27,11.19,11.14]},
{"g":"19.7","t":[0,20],"w":[11.12,11.12]},
{"g":"19.7","t":[0,6.7,14.3,18.9,20],"w":[7.8,8,8.5,9,9.1]},
{"g":"19.7","t":[6,12.7,20.3],"w":[7.8,8,8.5]},
{"g":"19.7","t":[0,3.9,8.5,12.4,16.4,20],"w":[8.2,8.5,9,9.5,10,10.35]},
{"g":"19.7","t":[0,2.8,6.7,10.7,15.8,20],"w":[8.7,9,9.5,10,10.5,10.78]},
{"g":"19.7","t":[0,2.3,6.3,11.4,16,20],"w":[9.2,9.5,10,10.5,10.79,10.93]},
{"g":"19.7","t":[0,2.4,7.5,12,16,20],"w":[9.7,10,10.5,10.79,10.93,11.01]},
{"g":"19.7","t":[0,3.1,8,12,16,20],"w":[10.2,10.5,10.81,10.94,11.02,11.06]},
{"g":"19.7","t":[0,20],"w":[7.66,7.66]},

{"g":"19.8","t":[2.4,1.4,0.05,-1.95,-5.45],"w":[5,5.5,6,6.5,7]},
{"g":"19.8","t":[7.2,6.2,4.85,2.85,-0.65],"w":[5,5.5,6,6.5,7]},
{"g":"19.8","t":[12,11,9.65,7.65,4.15],"w":[5,5.5,6,6.5,7]},
{"g":"19.8","t":[16.8,15.8,14.45,12.45,8.95],"w":[5,5.5,6,6.5,7]},
{"g":"19.8","t":[21.6,20.6,19.25,17.25,13.75],"w":[5,5.5,6,6.5,7]},
{"g":"19.8","t":[22.05,18.55],"w":[6.5,7]},
{"g":"19.8","t":[4.8,3.8,2.45,0.45,-3.05],"w":[5,5.5,6,6.5,7]},
{"g":"19.8","t":[9.6,8.6,7.25,5.25,1.75,-1,-3.05],"w":[5,5.5,6,6.5,7,7.2,7.3]},
{"g":"19.8","t":[14.4,13.4,12.05,10.05,6.55,3.8,1.75],"w":[5,5.5,6,6.5,7,7.2,7.3]},
{"g":"19.8","t":[19.2,18.2,16.85,14.85,11.35,8.6,6.55],"w":[5,5.5,6,6.5,7,7.2,7.3]},
{"g":"19.8","t":[24,23,21.65,19.65,16.15,13.4,11.35],"w":[5,5.5,6,6.5,7,7.2,7.3]},
{"g":"19.8","t":[20.95,18.2,16.15],"w":[7,7.2,7.3]},
{"g":"19.8","t":[0,0.34,3.1,7,11,15,20],"w":[12.6,12.5,12,11.64,11.47,11.39,11.35]},
{"g":"19.8","t":[0,4,8,12,20],"w":[12,11.64,11.47,11.39,11.34]},
{"g":"19.8","t":[0,20],"w":[11.32,11.32]},
{"g":"19.8","t":[0,8.3,14.2,18.1,20],"w":[7.7,8,8.5,9,9.15]},
{"g":"19.8","t":[6,14.3,20.2],"w":[7.7,8,8.5]},
{"g":"19.8","t":[0,4.3,8.2,11.5,14.9,18.9,20],"w":[8.1,8.5,9,9.5,10,10.5,10.6]},
{"g":"19.8","t":[0,3.1,6.4,9.8,13.8,20],"w":[8.6,9,9.5,10,10.5,10.97]},
{"g":"19.8","t":[0,2.6,6,10,16.6,20],"w":[9.1,9.5,10,10.5,11,11.13]},
{"g":"19.8","t":[0,2.7,6.7,13.3,17,20],"w":[9.6,10,10.5,11,11.14,11.21]},
{"g":"19.8","t":[0,3.2,9.8,14,20],"w":[10.1,10.5,11,11.16,11.26]},
{"g":"19.8","t":[0,5.3,10,15,20],"w":[10.6,11,11.17,11.25,11.29]},
{"g":"19.8","t":[0,20],"w":[7.56,7.56]},

{"g":"19.9","t":[2.4,1.38,0,-2.1,-6],"w":[5,5.5,6,6.5,7]},
{"g":"19.9","t":[7.2,6.18,4.8,2.7,-1.2],"w":[5,5.5,6,6.5,7]},
{"g":"19.9","t":[12,10.98,9.6,7.5,3.6],"w":[5,5.5,6,6.5,7]},
{"g":"19.9","t":[16.8,15.78,14.4,12.3,8.4],"w":[5,5.5,6,6.5,7]},
{"g":"19.9","t":[21.6,20.58,19.2,17.1,13.2],"w":[5,5.5,6,6.5,7]},
{"g":"19.9","t":[21.9,18],"w":[6.5,7]},
{"g":"19.9","t":[4.8,3.78,2.4,0.3,-3.6],"w":[5,5.5,6,6.5,7]},
{"g":"19.9","t":[9.6,8.58,7.2,5.1,1.2,-2.1],"w":[5,5.5,6,6.5,7,7.2]},
{"g":"19.9","t":[14.4,13.38,12,9.9,6,2.7],"w":[5,5.5,6,6.5,7,7.2]},
{"g":"19.9","t":[19.2,18.18,16.8,14.7,10.8,7.5],"w":[5,5.5,6,6.5,7,7.2]},
{"g":"19.9","t":[24,22.98,21.6,19.5,15.6,12.3],"w":[5,5.5,6,6.5,7,7.2]},
{"g":"19.9","t":[20.4,17.1],"w":[7,7.2]},
{"g":"19.9","t":[0,1.45,4.8,8,12,16,20],"w":[12.9,12.5,12,11.77,11.63,11.56,11.53]},
{"g":"19.9","t":[0,2,6,10,15,20],"w":[12.3,12,11.73,11.61,11.55,11.52]},
{"g":"19.9","t":[0,20],"w":[11.51,11.51]},
{"g":"19.9","t":[0,3.8,6.2,9.4,14.3,17.7,20],"w":[7.6,7.7,7.8,8,8.5,9,9.3]},
{"g":"19.9","t":[6,9.8,12.2,15.4,20.3],"w":[7.6,7.7,7.8,8,8.5]},
{"g":"19.9","t":[0,3.2,8.1,11.5,14.4,17.3,20],"w":[7.8,8,8.5,9,9.5,10,10.4]},
{"g":"19.9","t":[0,3.8,7.2,10.1,13,16.4,20],"w":[8.1,8.5,9,9.5,10,10.5,10.85]},
{"g":"19.9","t":[0,0.9,4.3,7.2,10.1,13.5,18.3,20],"w":[8.4,8.5,9,9.5,10,10.5,11,11.1]},
{"g":"19.9","t":[0,1.36,4.26,7.16,10.6,15.4,20],"w":[8.8,9,9.5,10,10.5,11,11.27]},
{"g":"19.9","t":[0,1.73,4.63,8,12.8,16.9,20],"w":[9.2,9.5,10,10.5,11,11.25,11.35]},
{"g":"19.9","t":[0,2.32,5.7,10.5,14.6,20],"w":[9.6,10,10.5,11,11.25,11.41]},
{"g":"19.9","t":[0,3.4,8.2,12.3,20],"w":[10,10.5,11,11.25,11.43]},
{"g":"19.9","t":[0,1.9,6,11.5,20],"w":[10.8,11,11.25,11.4,11.48]},
{"g":"19.9","t":[0,20],"w":[7.47,7.47]}
]
},
"data":{"name":"curves"},
"transform":[
{"window":[{"op":"row_number","as":"id"}]},
{"lookup":"g","from":{"data":{"name":"groups"},"key":"g","fields":["ks"]}},
{"flatten":["ks"]},
{"flatten":["t","w"]}
],
"columns":3,
"bounds":"flush",
"spacing":{"row":96,"column":96},
"facet":{"field":"ks","type":"nominal","header":{"title":null,"labelExpr":"'k = ' + datum.value","labelFont":"Liberation Serif","labelFontSize":17,"labelColor":"black","labelPadding":0}},
"resolve":{"axis":{"x":"independent","y":"independent"}},
"spec":{
"width":231.6,"height":231,
"layer":[
{"mark":{"type":"line","clip":true,"interpolate":"monotone","stroke":"#111111","strokeWidth":0.9},
"encoding":{
"x":{"field":"t","type":"quantitative","scale":{"domain":[0,20],"nice":false,"zero":false},
"axis":{"values":[5,10,15,20],"domain":false,"grid":false,"tickSize":-4,"tickColor":"black","tickWidth":0.8,"labelFlush":false,"labelFont":"Liberation Serif","labelFontSize":15,"labelColor":"black","labelPadding":5,"title":"t","titleFont":"Liberation Serif","titleFontStyle":"italic","titleFontWeight":"normal","titleFontSize":14,"titleColor":"black","titleX":250,"titleY":-1,"titleBaseline":"middle","titleAlign":"center","titleAngle":0}},
"y":{"field":"w","type":"quantitative","scale":{"domain":[0,20],"nice":false,"zero":false},
"axis":{"values":[5,10,15,20],"domain":false,"grid":false,"tickSize":-4,"tickColor":"black","tickWidth":0.8,"labelFlush":false,"labelFont":"Liberation Serif","labelFontSize":15,"labelColor":"black","labelPadding":9,"title":"W","titleFont":"Liberation Serif","titleFontStyle":"italic","titleFontWeight":"normal","titleFontSize":14,"titleColor":"black","titleX":2,"titleY":-30,"titleBaseline":"middle","titleAlign":"center","titleAngle":0}},
"detail":{"field":"id","type":"nominal"}
}},
{"transform":[{"filter":"datum.ax == 1"}],
"mark":{"type":"rule","stroke":"black","strokeWidth":1},
"encoding":{"x":{"datum":-0.75},"x2":{"datum":20.86},"y":{"datum":0}}},
{"transform":[{"filter":"datum.ax == 1"}],
"mark":{"type":"rule","stroke":"black","strokeWidth":1},
"encoding":{"x":{"datum":0},"y":{"datum":-0.35},"y2":{"datum":20.55}}}
]
}
}
